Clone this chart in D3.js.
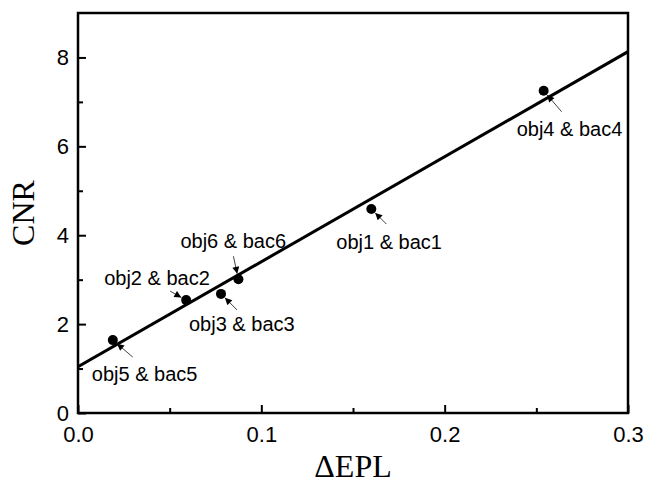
<!DOCTYPE html>
<html><head><meta charset="utf-8">
<script src="https://cdn.jsdelivr.net/npm/d3@7"></script>
<style>
html,body{margin:0;padding:0;background:#fff;}
svg{display:block;}
</style></head>
<body>
<svg id="chart" width="645" height="490"></svg>
<script>
// ---- data ----
const labels = ["obj1 & bac1","obj2 & bac2","obj3 & bac3","obj4 & bac4","obj5 & bac5","obj6 & bac6"];
const deltaEPL = [0.160, 0.059, 0.078, 0.254, 0.019, 0.0875];
const cnr = [4.59, 2.54, 2.68, 7.25, 1.64, 3.01];
const fitX = [0.0, 0.3];
const fitY = [1.04, 8.13];
const xTicks = [0.0, 0.1, 0.2, 0.3];
const xMinorTicks = [0.05, 0.15, 0.25];
const yTicks = [0, 2, 4, 6, 8];
const yMinorTicks = [1, 3, 5, 7];

// annotation layout (pixel offsets relative to each point): label start, arrow tail
const labelOffsets = [[-35,40],[-82,-15],[-32,37],[-27,45],[-21,41],[-58,-31]];
const arrowTails = [[15,15],[-16,-9],[16,16],[18,21],[20,17],[-5,-23]];

const svg = d3.select("#chart");
const m = {left:78, right:628, top:13, bottom:413};
const x = d3.scaleLinear().domain([0,0.3]).range([m.left,m.right]);
const y = d3.scaleLinear().domain([0,9]).range([m.bottom,m.top]);

const sans = "Arial, 'Liberation Sans', sans-serif";
const serif = "'Times New Roman', 'Liberation Serif', serif";

// fit line (clipped to plot)
svg.append("defs").append("clipPath").attr("id","clip")
  .append("rect").attr("x",m.left).attr("y",m.top).attr("width",m.right-m.left).attr("height",m.bottom-m.top);
svg.append("line")
  .attr("clip-path","url(#clip)")
  .attr("x1",x(fitX[0])).attr("y1",y(fitY[0]))
  .attr("x2",x(fitX[1])).attr("y2",y(fitY[1]))
  .attr("stroke","#000").attr("stroke-width",3);

// axes
const xAxis = svg.append("g").attr("transform",`translate(0,${m.bottom})`)
  .call(d3.axisBottom(x).tickValues(xTicks).tickFormat(d3.format(".1f")).tickSizeInner(-8).tickSizeOuter(0).tickPadding(13));
const xMinor = svg.append("g").attr("transform",`translate(0,${m.bottom})`)
  .call(d3.axisBottom(x).tickValues(xMinorTicks).tickFormat("").tickSizeInner(-5).tickSizeOuter(0));
const yAxis = svg.append("g").attr("transform",`translate(${m.left},0)`)
  .call(d3.axisLeft(y).tickValues(yTicks).tickFormat(d3.format("d")).tickSizeInner(-8).tickSizeOuter(0).tickPadding(9));
const yMinor = svg.append("g").attr("transform",`translate(${m.left},0)`)
  .call(d3.axisLeft(y).tickValues(yMinorTicks).tickFormat("").tickSizeInner(-5).tickSizeOuter(0));

[xAxis,xMinor,yAxis,yMinor].forEach(g=>{
  g.select(".domain").remove();
  g.selectAll(".tick line").attr("stroke","#000").attr("stroke-width",2);
  g.selectAll(".tick text").attr("fill","#000").style("font-family",sans).style("font-size","22px");
});

// frame
svg.append("rect").attr("x",m.left).attr("y",m.top)
  .attr("width",m.right-m.left).attr("height",m.bottom-m.top)
  .attr("fill","none").attr("stroke","#000").attr("stroke-width",2.5);

// points
const pts = labels.map((l,i)=>({label:l, x:deltaEPL[i], y:cnr[i], lo:labelOffsets[i], at:arrowTails[i]}));
svg.selectAll("circle.pt").data(pts).enter().append("circle")
  .attr("class","pt").attr("cx",d=>x(d.x)).attr("cy",d=>y(d.y)).attr("r",5).attr("fill","#000");

// arrows
svg.append("defs").append("marker").attr("id","ah")
  .attr("viewBox","0 0 10 10").attr("refX",10).attr("refY",5)
  .attr("markerUnits","userSpaceOnUse").attr("markerWidth",8).attr("markerHeight",7).attr("orient","auto")
  .append("path").attr("d","M0,0L10,5L0,10Z").attr("fill","#000");
svg.selectAll("line.arrow").data(pts).enter().append("line")
  .attr("class","arrow")
  .each(function(d){
    const cx=x(d.x), cy=y(d.y);
    const dx=d.at[0], dy=d.at[1];
    const len=Math.hypot(dx,dy);
    d3.select(this)
      .attr("x1",cx+dx).attr("y1",cy+dy)
      .attr("x2",cx+dx/len*5.5).attr("y2",cy+dy/len*5.5);
  })
  .attr("stroke","#444").attr("stroke-width",1).attr("marker-end","url(#ah)");

// labels
svg.selectAll("text.lab").data(pts).enter().append("text")
  .attr("class","lab")
  .attr("x",d=>x(d.x)+d.lo[0]).attr("y",d=>y(d.y)+d.lo[1])
  .style("font-family",sans).style("font-size","20px").attr("fill","#000")
  .text(d=>d.label);

// axis titles
svg.append("text").attr("x",(m.left+m.right)/2).attr("y",477)
  .attr("text-anchor","middle").style("font-family",serif).style("font-size","32px").attr("fill","#000")
  .text("ΔEPL");
svg.append("text").attr("transform",`translate(34,${(m.top+m.bottom)/2}) rotate(-90)`)
  .attr("text-anchor","middle").style("font-family",serif).style("font-size","32px").attr("fill","#000")
  .text("CNR");
</script>
</body></html>
